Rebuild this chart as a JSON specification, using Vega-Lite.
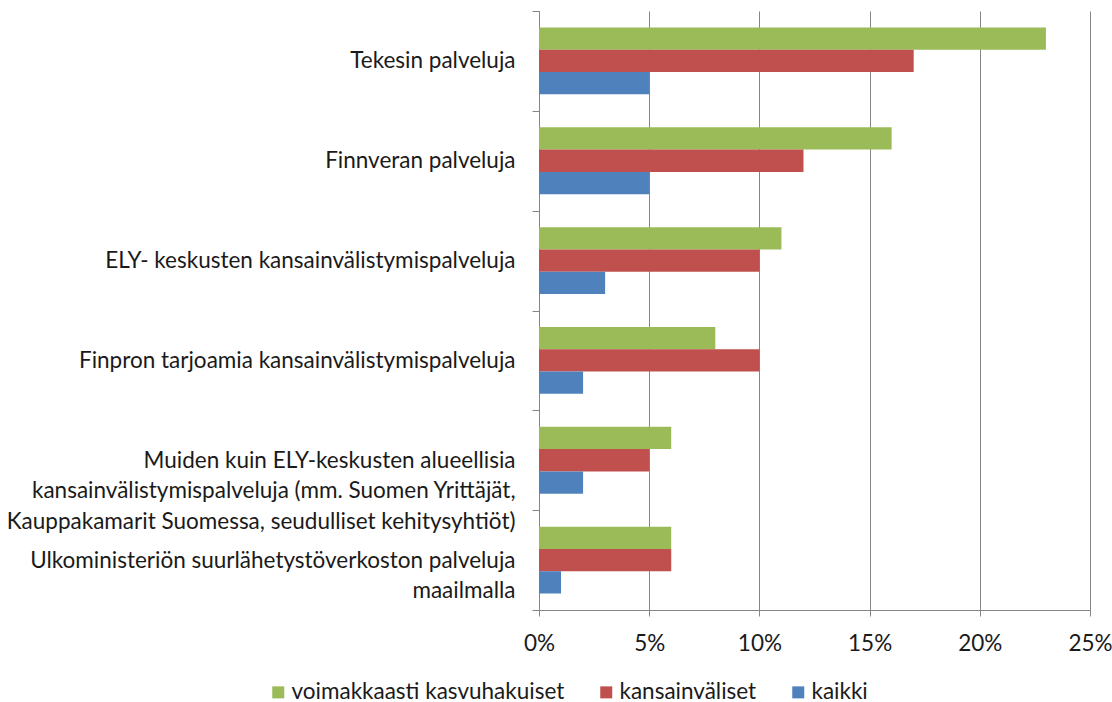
{
  "$schema": "https://vega.github.io/schema/vega-lite/v6.json",
  "autosize": {"type": "none"},
  "width": 551,
  "height": 599,
  "padding": {"left": 539, "top": 11, "right": 22, "bottom": 92},
  "background": "white",
  "config": {
    "font": "Lato",
    "view": {"stroke": null},
    "axis": {"labelFont": "Lato", "labelColor": "#1a1a1a", "domainColor": "#868686", "tickColor": "#868686", "gridColor": "#868686"}
  },
  "data": {
    "values": [
      {"category": "Tekesin palveluja", "series": "voimakkaasti kasvuhakuiset", "value": 0.23},
      {"category": "Tekesin palveluja", "series": "kansainväliset", "value": 0.17},
      {"category": "Tekesin palveluja", "series": "kaikki", "value": 0.05},
      {"category": "Finnveran palveluja", "series": "voimakkaasti kasvuhakuiset", "value": 0.16},
      {"category": "Finnveran palveluja", "series": "kansainväliset", "value": 0.12},
      {"category": "Finnveran palveluja", "series": "kaikki", "value": 0.05},
      {"category": "ELY- keskusten kansainvälistymispalveluja", "series": "voimakkaasti kasvuhakuiset", "value": 0.11},
      {"category": "ELY- keskusten kansainvälistymispalveluja", "series": "kansainväliset", "value": 0.10},
      {"category": "ELY- keskusten kansainvälistymispalveluja", "series": "kaikki", "value": 0.03},
      {"category": "Finpron tarjoamia kansainvälistymispalveluja", "series": "voimakkaasti kasvuhakuiset", "value": 0.08},
      {"category": "Finpron tarjoamia kansainvälistymispalveluja", "series": "kansainväliset", "value": 0.10},
      {"category": "Finpron tarjoamia kansainvälistymispalveluja", "series": "kaikki", "value": 0.02},
      {"category": "Muiden kuin ELY-keskusten alueellisia|kansainvälistymispalveluja (mm. Suomen Yrittäjät,|Kauppakamarit Suomessa, seudulliset kehitysyhtiöt)", "series": "voimakkaasti kasvuhakuiset", "value": 0.06},
      {"category": "Muiden kuin ELY-keskusten alueellisia|kansainvälistymispalveluja (mm. Suomen Yrittäjät,|Kauppakamarit Suomessa, seudulliset kehitysyhtiöt)", "series": "kansainväliset", "value": 0.05},
      {"category": "Muiden kuin ELY-keskusten alueellisia|kansainvälistymispalveluja (mm. Suomen Yrittäjät,|Kauppakamarit Suomessa, seudulliset kehitysyhtiöt)", "series": "kaikki", "value": 0.02},
      {"category": "Ulkoministeriön suurlähetystöverkoston palveluja|maailmalla", "series": "voimakkaasti kasvuhakuiset", "value": 0.06},
      {"category": "Ulkoministeriön suurlähetystöverkoston palveluja|maailmalla", "series": "kansainväliset", "value": 0.06},
      {"category": "Ulkoministeriön suurlähetystöverkoston palveluja|maailmalla", "series": "kaikki", "value": 0.01}
    ]
  },
  "mark": {"type": "bar"},
  "encoding": {
    "y": {
      "field": "category",
      "type": "nominal",
      "sort": null,
      "scale": {"paddingInner": 0, "paddingOuter": 0},
      "axis": {
        "title": null,
        "tickBand": "extent",
        "tickSize": 7,
        "labelFontSize": 22.5,
        "labelLimit": 700,
        "labelLineHeight": 30.5,
        "labelPadding": 17,
        "labelExpr": "split(datum.label, '|')"
      }
    },
    "yOffset": {
      "field": "series",
      "type": "nominal",
      "sort": ["voimakkaasti kasvuhakuiset", "kansainväliset", "kaikki"],
      "scale": {"paddingInner": 0, "paddingOuter": 0.74}
    },
    "x": {
      "field": "value",
      "type": "quantitative",
      "scale": {"domain": [0, 0.25], "nice": false},
      "axis": {
        "title": null,
        "values": [0, 0.05, 0.1, 0.15, 0.2, 0.25],
        "format": ".0%",
        "grid": true,
        "tickSize": 6,
        "labelFontSize": 22.5,
        "labelPadding": 16,
        "labelFlush": false
      }
    },
    "color": {
      "field": "series",
      "type": "nominal",
      "scale": {
        "domain": ["voimakkaasti kasvuhakuiset", "kansainväliset", "kaikki"],
        "range": ["#9BBB59", "#C0504D", "#4F81BD"]
      },
      "legend": {
        "title": null,
        "orient": "none",
        "direction": "horizontal",
        "legendX": -272,
        "legendY": 670,
        "symbolType": "square",
        "symbolSize": 144,
        "symbolStrokeWidth": 0,
        "labelFont": "Lato",
        "labelFontSize": 22.5,
        "labelColor": "#1a1a1a",
        "labelOffset": 2,
        "columnPadding": 30,
        "labelLimit": 400
      }
    }
  }
}
